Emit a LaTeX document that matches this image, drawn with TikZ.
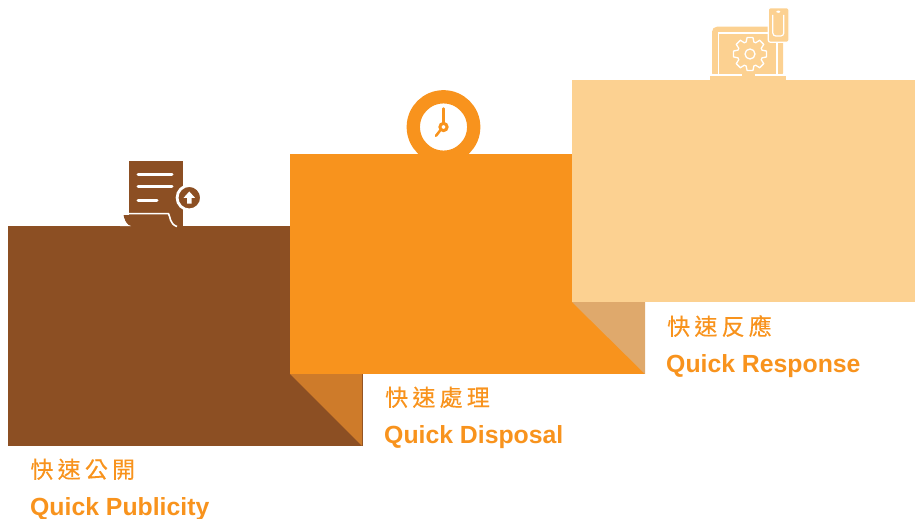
\documentclass[tikz,border=0pt]{standalone}
\usepackage{fontspec}
\setmainfont{Liberation Sans}
\newfontfamily\cjkfont[FakeBold=0.3]{Noto Sans CJK TC}
\definecolor{brownbox}{HTML}{8C4F23}
\definecolor{brownfold}{HTML}{CE7B2A}
\definecolor{orangebox}{HTML}{F8931D}
\definecolor{orangefold}{HTML}{DFA96C}
\definecolor{sandbox}{HTML}{FCD191}
\newcommand{\zhgap}{\hspace{4.2pt}}
\tikzset{
	titlezh/.style={anchor=base west,inner sep=0,text=orangebox,font=\cjkfont\fontsize{23}{23}\selectfont},
	titleen/.style={anchor=base west,inner sep=0,text=orangebox,font=\bfseries\fontsize{24.8}{24.8}\selectfont},
	whiteline/.style={draw=white,line width=3,line cap=round}
}
\begin{document}
\begin{tikzpicture}[x=1pt,y=-1pt]
	\useasboundingbox (0,0) rectangle (915,519);
	% steps
	\fill[brownbox] (8,226) rectangle (363,446);
	\fill[brownfold] (290,374) -- (362.2,374) -- (362.2,446) -- cycle;
	\fill[orangebox] (290,154) rectangle (645,374);
	\fill[orangefold] (572,302) -- (645,302) -- (645,374) -- cycle;
	\fill[sandbox] (572,80) rectangle (915,302);
	% document
	\fill[brownbox] (128.7,161.3) rectangle (182.7,227);
	\fill[brownbox] (123.5,214.5) -- (170,214.5) -- (172,226.5) -- (131,226.5) .. controls (127,225) and (124,220) .. (123.5,214.5) -- cycle;
	\fill[white] (120,212.8) rectangle (128.7,214.5);
	\fill[white] (124,218) .. controls (125,222) and (127,225) .. (131,226) -- (120,226) -- (120,218) -- cycle;
	\draw[draw=white,line width=1.6] (122,213.6) -- (168.5,213.6) .. controls (170.5,217) and (169.5,224) .. (177,226.5);
	\draw[whiteline] (138,174) -- (172,174);
	\draw[whiteline] (138,186.7) -- (172,186.7);
	\draw[whiteline] (138,200) -- (157,200);
	\draw[fill=brownbox,draw=white,line width=2.8] (189.3,197.7) circle (12.2);
	\fill[white] (189.3,191.5) -- (195,197.8) -- (191.6,197.8) -- (191.6,203.5) -- (187,203.5) -- (187,197.8) -- (183.6,197.8) -- cycle;
	% clock
	\draw[orangebox,line width=13.3,fill=white] (443.5,127) circle (30.2);
	\draw[orangebox,line width=2.5,line cap=round] (443.5,108.5) -- (443.5,123);
	\draw[orangebox,line width=2.5,line cap=round] (440.5,130) -- (436,135.8);
	\draw[orangebox,line width=3,fill=white] (443.5,127) circle (3.6);
	% laptop and phone
	\fill[sandbox,rounded corners=5] (712,78) -- (712,26.7) -- (783,26.7) -- (783,78) -- cycle;
	\draw[white,line width=1.3] (718.5,74.6) -- (718.5,33) -- (777,33) -- (777,74.6);
	\draw[white,line width=1.3] (710,75) -- (741.5,75);
	\draw[white,line width=1.3] (754.5,75) -- (786,75);
	\fill[sandbox] (710,75.8) rectangle (786,80);
	\draw[white,line width=1.3,line join=round,shift={(750,54)}] (-18:12.6)
		\foreach \a in {0,45,...,315} { -- ({\a-18}:12.6) -- ({\a-10}:16.8) -- ({\a+10}:16.8) -- ({\a+18}:12.6) } -- cycle;
	\draw[white,line width=1.3] (750,54) circle (5);
	\draw[white,line width=1.2,fill=sandbox,rounded corners=2] (768.3,7.8) rectangle (789,42.2);
	\draw[white,line width=1.2,rounded corners=3] (772.8,15) -- (772.8,36) -- (783.8,36) -- (783.8,15);
	\fill[white] (778.3,11.7) ellipse (2 and 1.1);
	% labels
	\node[titlezh] (publiczh) at (30.3,478) {快\zhgap 速\zhgap 公\zhgap 開};
	\node[titleen] (publicen) at (30,515) {Quick Publicity};
	\node[titlezh] (disposalzh) at (385,406) {快\zhgap 速\zhgap 處\zhgap 理};
	\node[titleen] (disposalen) at (384,443) {Quick Disposal};
	\node[titlezh] (responsezh) at (667,335) {快\zhgap 速\zhgap 反\zhgap 應};
	\node[titleen] (responseen) at (666,372) {Quick Response};
\end{tikzpicture}
\end{document}
